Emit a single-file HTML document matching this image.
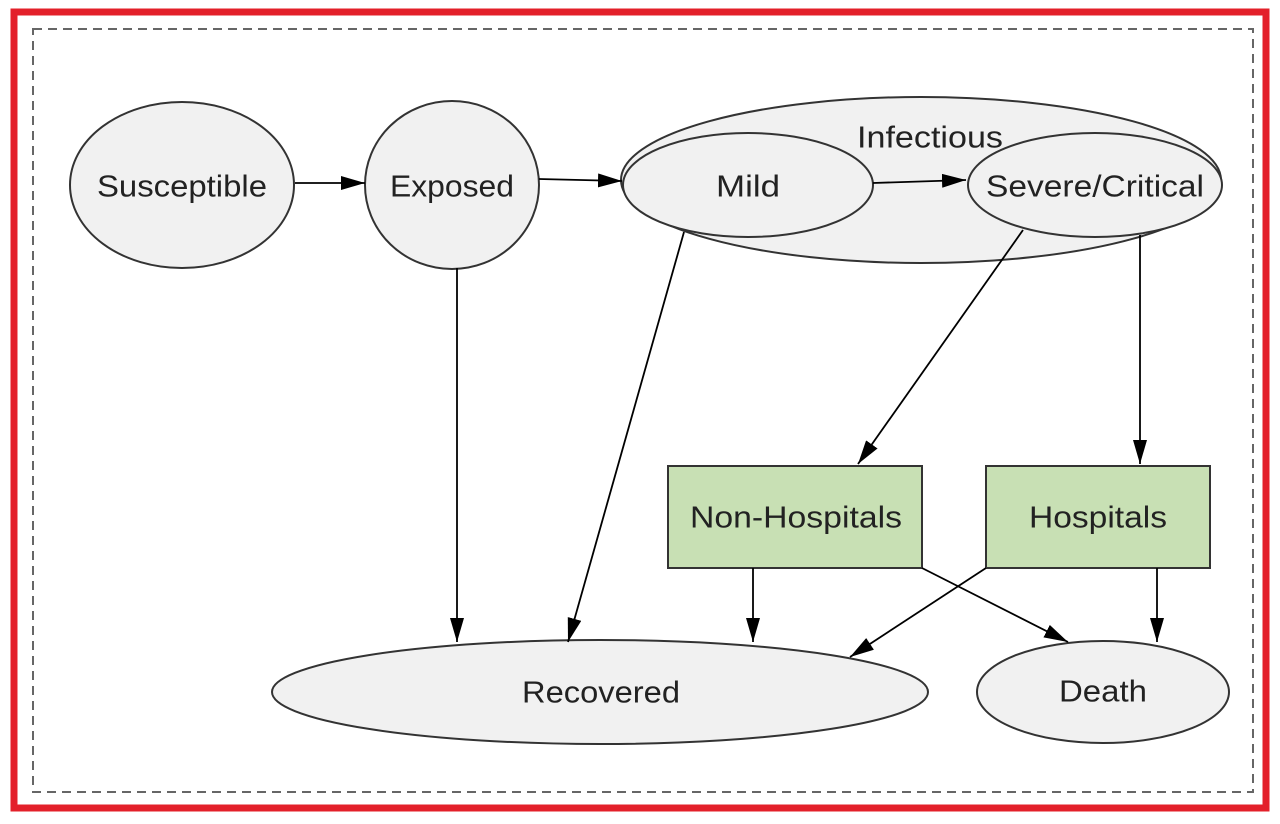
<!DOCTYPE html>
<html><head><meta charset="utf-8"><style>
html,body{margin:0;padding:0;background:#fff;}
svg{display:block;}
text{font-family:"Liberation Sans",sans-serif;font-size:31px;fill:#222;text-anchor:middle;dominant-baseline:central;}
</style></head><body>
<svg width="1280" height="824" viewBox="0 0 1280 824">
<defs><marker id="b" markerWidth="24" markerHeight="14" refX="24" refY="7" orient="auto" markerUnits="userSpaceOnUse"><path d="M0,0 L24,7 L0,14 z" fill="#000"/></marker></defs>
<rect x="14" y="12" width="1252" height="796" fill="none" stroke="#e3202a" stroke-width="7"/>
<rect x="33" y="29" width="1220" height="763" fill="none" stroke="#666" stroke-width="2" stroke-dasharray="9,6"/>
<g stroke="#333" stroke-width="2" fill="#f1f1f1">
<ellipse cx="182" cy="185" rx="112" ry="83"/>
<ellipse cx="452" cy="185" rx="87" ry="84"/>
<ellipse cx="921" cy="180" rx="300" ry="83"/>
<ellipse cx="748" cy="185" rx="125" ry="52"/>
<ellipse cx="1095" cy="185" rx="127" ry="52"/>
<ellipse cx="600" cy="692" rx="328" ry="52"/>
<ellipse cx="1103" cy="692" rx="126" ry="51"/>
</g>
<g stroke="#333" stroke-width="2" fill="#c8e0b4">
<rect x="668" y="466" width="254" height="102"/>
<rect x="986" y="466" width="224" height="102"/>
</g>
<g stroke="#000" stroke-width="1.8" fill="none" marker-end="url(#b)">
<line x1="295" y1="183" x2="365" y2="183"/>
<line x1="539" y1="179" x2="622" y2="181"/>
<line x1="873" y1="183" x2="966" y2="180"/>
<line x1="457" y1="268" x2="457" y2="642"/>
<line x1="684" y1="232" x2="568" y2="642"/>
<line x1="1023" y1="230" x2="858" y2="464"/>
<line x1="1140" y1="235" x2="1140" y2="464"/>
<line x1="753" y1="568" x2="753" y2="642"/>
<line x1="922" y1="568" x2="1068" y2="642"/>
<line x1="986" y1="568" x2="850" y2="657"/>
<line x1="1157" y1="568" x2="1157" y2="642"/>
</g>
<text x="182" y="186" textLength="170" lengthAdjust="spacingAndGlyphs">Susceptible</text>
<text x="452" y="186" textLength="124" lengthAdjust="spacingAndGlyphs">Exposed</text>
<text x="930" y="137" textLength="146" lengthAdjust="spacingAndGlyphs">Infectious</text>
<text x="748" y="186" textLength="64" lengthAdjust="spacingAndGlyphs">Mild</text>
<text x="1095" y="186" textLength="218" lengthAdjust="spacingAndGlyphs">Severe/Critical</text>
<text x="796" y="517" textLength="212" lengthAdjust="spacingAndGlyphs">Non-Hospitals</text>
<text x="1098" y="517" textLength="138" lengthAdjust="spacingAndGlyphs">Hospitals</text>
<text x="601" y="692" textLength="158" lengthAdjust="spacingAndGlyphs">Recovered</text>
<text x="1103" y="691" textLength="88" lengthAdjust="spacingAndGlyphs">Death</text>
</svg>
</body></html>
